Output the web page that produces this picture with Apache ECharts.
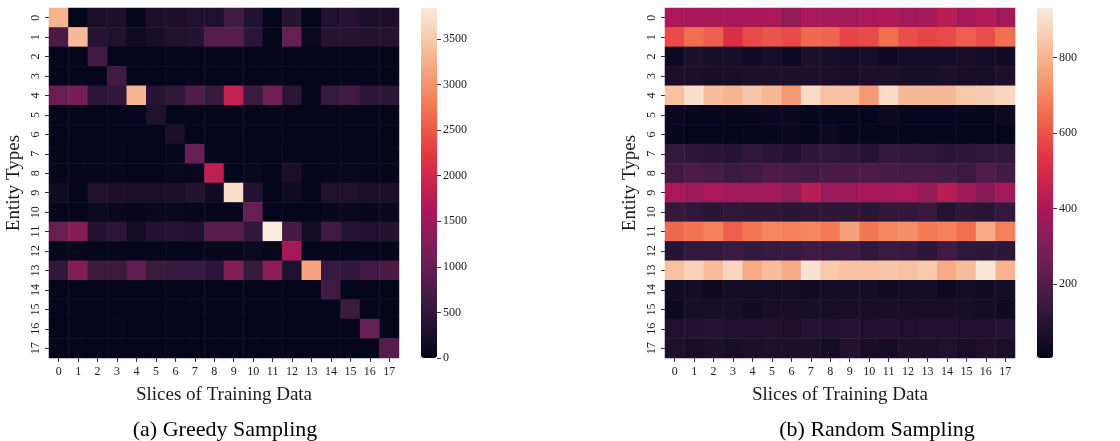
<!DOCTYPE html>
<html><head><meta charset="utf-8">
<script src="https://cdn.jsdelivr.net/npm/echarts@6/dist/echarts.min.js"></script>
<style>html,body{margin:0;padding:0;background:#fff}#c{width:1120px;height:441px}</style>
</head><body><div id="c"></div>
<script>
const categories = ['0','1','2','3','4','5','6','7','8','9','10','11','12','13','14','15','16','17'];
// Greedy sampling counts: rows = entity types, columns = slices
const greedyRows = [
  [3300, 20, 250, 250, 20, 280, 280, 300, 330, 650, 330, 20, 400, 20, 330, 380, 250, 280],
  [750, 3350, 400, 300, 150, 220, 300, 350, 850, 850, 450, 20, 1000, 120, 400, 400, 350, 380],
  [20, 20, 650, 20, 20, 20, 20, 20, 20, 20, 20, 20, 20, 20, 20, 20, 20, 20],
  [20, 20, 20, 650, 20, 20, 20, 20, 20, 20, 20, 20, 20, 20, 20, 20, 20, 20],
  [1000, 1150, 450, 500, 3300, 400, 500, 800, 550, 1850, 600, 1100, 450, 20, 550, 650, 450, 450],
  [20, 20, 20, 20, 20, 300, 20, 20, 20, 20, 20, 20, 20, 20, 20, 20, 20, 20],
  [20, 20, 20, 20, 20, 20, 250, 20, 20, 20, 20, 20, 20, 20, 20, 20, 20, 20],
  [30, 30, 30, 60, 30, 30, 30, 1000, 30, 30, 30, 30, 30, 30, 50, 60, 50, 40],
  [40, 40, 50, 50, 40, 40, 70, 40, 1800, 40, 80, 40, 250, 40, 60, 80, 50, 40],
  [150, 30, 300, 280, 250, 250, 250, 350, 150, 3700, 350, 30, 150, 40, 300, 300, 250, 250],
  [20, 20, 100, 80, 50, 70, 80, 40, 40, 40, 1000, 20, 20, 20, 60, 80, 60, 80],
  [1000, 1300, 350, 450, 200, 350, 400, 300, 850, 850, 500, 3840, 700, 200, 650, 400, 300, 350],
  [30, 30, 30, 30, 30, 30, 30, 30, 30, 30, 100, 30, 1600, 30, 30, 30, 30, 30],
  [500, 1250, 600, 600, 950, 600, 550, 550, 450, 1250, 550, 1350, 300, 3150, 550, 500, 650, 750],
  [20, 20, 20, 20, 20, 20, 20, 20, 20, 20, 20, 20, 20, 20, 650, 20, 20, 20],
  [20, 20, 20, 20, 20, 20, 20, 20, 20, 20, 20, 20, 20, 20, 20, 600, 20, 20],
  [20, 20, 20, 50, 20, 20, 20, 20, 20, 20, 20, 20, 20, 20, 20, 20, 1000, 20],
  [20, 20, 20, 20, 20, 20, 20, 20, 20, 20, 20, 20, 20, 20, 20, 20, 20, 850]
];
// Random sampling counts
const randomRows = [
  [400, 390, 390, 390, 390, 400, 340, 400, 385, 380, 400, 410, 380, 385, 430, 385, 420, 380],
  [580, 650, 620, 510, 580, 600, 580, 640, 630, 570, 580, 650, 590, 570, 580, 620, 590, 650],
  [30, 70, 55, 55, 45, 60, 30, 65, 55, 50, 55, 35, 50, 50, 50, 60, 50, 40],
  [65, 65, 60, 60, 70, 70, 70, 70, 65, 60, 65, 70, 55, 55, 70, 60, 55, 70],
  [830, 900, 820, 800, 840, 810, 740, 890, 830, 830, 740, 890, 810, 810, 810, 850, 860, 880],
  [25, 20, 20, 20, 20, 25, 25, 15, 15, 20, 10, 30, 20, 20, 20, 20, 15, 30],
  [20, 10, 8, 8, 15, 15, 25, 20, 35, 20, 20, 20, 20, 20, 15, 15, 20, 8],
  [130, 115, 110, 100, 120, 110, 90, 115, 120, 115, 95, 130, 125, 125, 110, 115, 120, 125],
  [160, 190, 175, 150, 160, 190, 180, 165, 185, 185, 190, 175, 175, 180, 170, 145, 200, 170],
  [400, 360, 400, 380, 375, 375, 340, 430, 360, 365, 395, 385, 400, 350, 430, 370, 320, 380],
  [130, 125, 110, 120, 115, 115, 110, 115, 115, 115, 110, 120, 125, 140, 95, 115, 110, 135],
  [640, 660, 690, 620, 670, 700, 690, 700, 680, 760, 670, 700, 720, 680, 690, 650, 780, 690],
  [100, 130, 130, 150, 135, 140, 140, 160, 145, 150, 125, 145, 140, 115, 160, 120, 115, 115],
  [830, 870, 820, 880, 780, 820, 780, 910, 850, 830, 830, 840, 830, 850, 780, 820, 920, 800],
  [45, 50, 35, 50, 50, 50, 50, 40, 50, 50, 50, 45, 50, 50, 35, 50, 45, 50],
  [30, 55, 55, 55, 45, 60, 60, 55, 60, 60, 60, 60, 60, 60, 60, 55, 50, 35],
  [80, 85, 95, 80, 80, 85, 75, 95, 85, 100, 80, 90, 80, 85, 85, 80, 80, 95],
  [75, 60, 70, 55, 70, 75, 70, 70, 50, 90, 60, 50, 70, 70, 80, 60, 75, 65]
];
const greedyTicks = [0, 500, 1000, 1500, 2000, 2500, 3000, 3500];
const randomTicks = [200, 400, 600, 800];
const greedyRange = [0, 3840];
const randomRange = [4, 931];
const xName = 'Slices of Training Data';
const yName = 'Entity Types';
const captions = ['(a) Greedy Sampling', '(b) Random Sampling'];

const rocket = ['#03051a', '#35193e', '#701f57', '#ad1759', '#e13342', '#f37651', '#f6b48f', '#faebdd'];
const FONT = 'Liberation Serif';

function toData(rows) {
  const out = [];
  rows.forEach((r, y) => r.forEach((v, x) => out.push([x, y, v])));
  return out;
}

const gridL = [{left: 49, top: 8, width: 350, height: 350}, {left: 665, top: 8, width: 350, height: 350}];
const cbL = [{left: 421, top: 8, width: 16, height: 350}, {left: 1037, top: 8, width: 16, height: 350}];

const tickStyle = {show: true, length: 4, lineStyle: {color: '#333', width: 1}};
const labelStyle = {color: '#1a1a1a', fontFamily: FONT, fontSize: 12};

const option = {
  animation: false,
  backgroundColor: '#fff',
  grid: [gridL[0], gridL[1], cbL[0], cbL[1]],
  xAxis: [0, 1].map(i => ({
    type: 'category', gridIndex: i, data: categories,
    axisLine: {show: false}, axisTick: Object.assign({alignWithLabel: true}, tickStyle),
    axisLabel: Object.assign({margin: 8, interval: 0}, labelStyle),
    splitArea: {show: false}, splitLine: {show: false},
    name: xName, nameLocation: 'middle', nameGap: 28,
    nameTextStyle: {fontFamily: FONT, fontSize: 19, color: '#1a1a1a'}
  })).concat([2, 3].map(i => ({
    type: 'category', gridIndex: i, data: [''], show: false
  }))),
  yAxis: [0, 1].map(i => ({
    type: 'category', gridIndex: i, data: categories, inverse: true,
    axisLine: {show: false}, axisTick: Object.assign({alignWithLabel: true}, tickStyle),
    axisLabel: Object.assign({margin: 7, interval: 0, rotate: 90}, labelStyle),
    splitArea: {show: false}, splitLine: {show: false},
    name: yName, nameLocation: 'middle', nameGap: 25,
    nameTextStyle: {fontFamily: FONT, fontSize: 19, color: '#1a1a1a'}
  })).concat([
    {type: 'value', gridIndex: 2, position: 'right', min: greedyRange[0], max: greedyRange[1],
     axisLine: {show: false}, splitLine: {show: false},
     axisTick: Object.assign({customValues: greedyTicks}, tickStyle),
     axisLabel: Object.assign({customValues: greedyTicks, margin: 6, formatter: v => String(v)}, labelStyle)},
    {type: 'value', gridIndex: 3, position: 'right', min: randomRange[0], max: randomRange[1],
     axisLine: {show: false}, splitLine: {show: false},
     axisTick: Object.assign({customValues: randomTicks}, tickStyle),
     axisLabel: Object.assign({customValues: randomTicks, margin: 6, formatter: v => String(v)}, labelStyle)}
  ]),
  visualMap: [
    {type: 'continuous', seriesIndex: 0, min: greedyRange[0], max: greedyRange[1], calculable: false,
     orient: 'vertical', left: cbL[0].left, top: cbL[0].top, itemWidth: cbL[0].width, itemHeight: cbL[0].height,
     padding: 0, text: null, showLabel: false, inRange: {color: rocket}},
    {type: 'continuous', seriesIndex: 1, min: randomRange[0], max: randomRange[1], calculable: false,
     orient: 'vertical', left: cbL[1].left, top: cbL[1].top, itemWidth: cbL[1].width, itemHeight: cbL[1].height,
     padding: 0, text: null, showLabel: false, inRange: {color: rocket}}
  ],
  series: [
    {type: 'heatmap', xAxisIndex: 0, yAxisIndex: 0, data: toData(greedyRows), itemStyle: {borderWidth: 0}, emphasis: {disabled: true}},
    {type: 'heatmap', xAxisIndex: 1, yAxisIndex: 1, data: toData(randomRows), itemStyle: {borderWidth: 0}, emphasis: {disabled: true}}
  ],
  graphic: [
    {type: 'text', x: 225, y: 430, style: {text: captions[0], fontFamily: FONT, fontSize: 22, fill: '#000', align: 'center', verticalAlign: 'middle'}},
    {type: 'text', x: 877, y: 430, style: {text: captions[1], fontFamily: FONT, fontSize: 22, fill: '#000', align: 'center', verticalAlign: 'middle'}}
  ]
};
const chart = echarts.init(document.getElementById('c'), null, {renderer: 'canvas'});
chart.setOption(option);
</script></body></html>
